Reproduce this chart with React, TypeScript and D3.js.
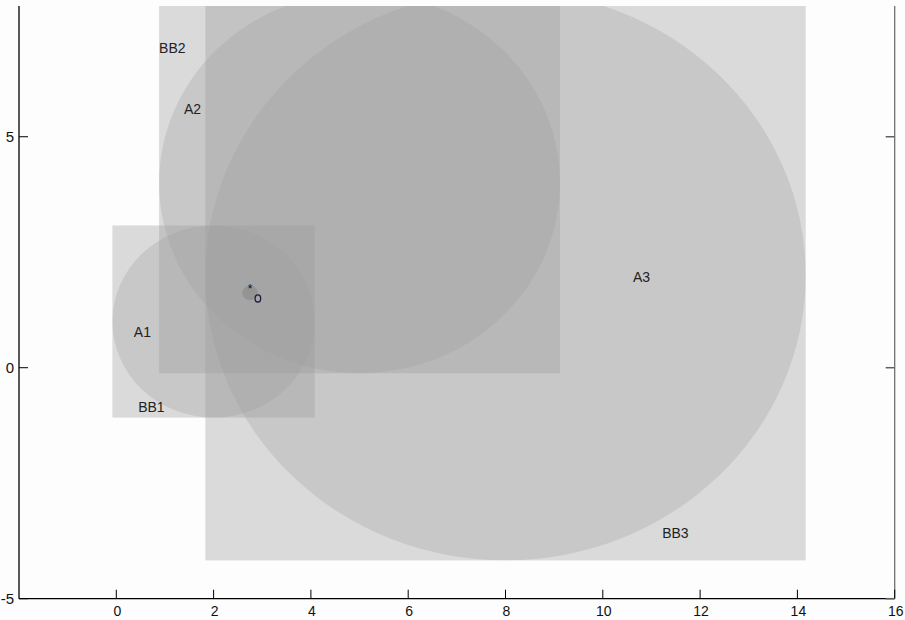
import React from 'react'
import * as d3 from 'd3'

// circles A1..A3 and their bounding boxes BB1..BB3
const circleNames = ['A1', 'A2', 'A3']
const circleX = [2, 5, 8]
const circleY = [1, 4, 2]
const circleR = [2.08, 4.12, 6.17]

// small circle in the overlap, with the two point markers
const smallX = 2.75
const smallY = 1.62
const smallR = 0.16
const starX = 2.75
const starY = 1.62
const oX = 2.91
const oY = 1.5

// label anchors (left edge, baseline) in data units
const labelTexts = ['A1', 'BB1', 'A2', 'BB2', 'A3', 'BB3']
const labelX = [0.36, 0.45, 1.39, 0.88, 10.62, 11.22]
const labelY = [0.66, -0.96, 5.49, 6.81, 1.85, -3.69]

const xTicks = [0, 2, 4, 6, 8, 10, 12, 14, 16]
const yTicks = [-5, 0, 5]

const W = 905
const H = 620
const left = 19
const right = 894.7
const top = 6
const bottom = 598.7

const SHADE = '#9c9c9c'
const narrow = '"Liberation Sans Narrow", "Arial Narrow", "Liberation Sans", Arial, sans-serif'
const sans = '"Liberation Sans", Arial, sans-serif'

export default function App() {
  const x = d3.scaleLinear().domain([-2, 16]).range([left, right])
  const y = d3.scaleLinear().domain([-5, 7.83]).range([bottom, top])
  const kx = x(1) - x(0)
  const ky = y(0) - y(1)

  return (
    <svg
      width={W}
      height={H}
      style={{ position: 'absolute', left: 0, top: 0, background: '#fdfdfd' }}
    >
      <defs>
        <clipPath id="plot">
          <rect x={left} y={top} width={right - left} height={bottom - top} />
        </clipPath>
      </defs>

      <g clipPath="url(#plot)">
        {circleNames.map((n, i) => {
          const r = circleR[i]
          return (
            <g key={n}>
              <ellipse
                cx={x(circleX[i])}
                cy={y(circleY[i])}
                rx={r * kx}
                ry={r * ky}
                fill={SHADE}
                fillOpacity={0.28}
              />
              <rect
                x={x(circleX[i] - r)}
                y={y(circleY[i] + r)}
                width={x(circleX[i] + r) - x(circleX[i] - r)}
                height={y(circleY[i] - r) - y(circleY[i] + r)}
                fill={SHADE}
                fillOpacity={0.37}
              />
            </g>
          )
        })}
        <ellipse
          cx={x(smallX)}
          cy={y(smallY)}
          rx={smallR * kx}
          ry={smallR * ky}
          fill="#888"
          fillOpacity={0.6}
        />
      </g>

      {/* markers */}
      <text
        x={x(starX)}
        y={y(starY)}
        textAnchor="middle"
        fontFamily={sans}
        fontSize={12}
        fill="#111"
      >
        *
      </text>
      <ellipse
        cx={x(oX)}
        cy={y(oY)}
        rx={2.8}
        ry={3.6}
        fill="none"
        stroke="#1a1a40"
        strokeWidth={1.3}
      />

      {labelTexts.map((t, i) => (
        <text
          key={t}
          x={x(labelX[i])}
          y={y(labelY[i])}
          fontFamily={sans}
          fontSize={14}
          fill="#222"
        >
          {t}
        </text>
      ))}

      {/* axes */}
      <line x1={left} x2={left} y1={top} y2={bottom} stroke="#000" strokeWidth={1.3} />
      <line x1={left} x2={right} y1={bottom} y2={bottom} stroke="#000" strokeWidth={1.3} />
      <line x1={right} x2={right} y1={top} y2={bottom} stroke="#707070" strokeWidth={1.3} />

      {xTicks.map(t => (
        <g key={'x' + t}>
          <line x1={x(t)} x2={x(t)} y1={bottom} y2={bottom - 9} stroke="#000" strokeWidth={1} />
          <text
            x={x(t) + 1}
            y={616}
            textAnchor="middle"
            fontFamily={narrow}
            fontSize={14}
            fill="#111"
          >
            {t}
          </text>
        </g>
      ))}

      {yTicks.map(t => (
        <g key={'y' + t}>
          <line x1={left} x2={left + 9} y1={y(t)} y2={y(t)} stroke="#000" strokeWidth={1} />
          <line x1={right - 9} x2={right} y1={y(t)} y2={y(t)} stroke="#606060" strokeWidth={1.5} />
          <text
            x={left - 5}
            y={y(t) + 5}
            textAnchor="end"
            fontFamily={narrow}
            fontSize={15}
            fill="#111"
          >
            {t}
          </text>
        </g>
      ))}
    </svg>
  )
}
